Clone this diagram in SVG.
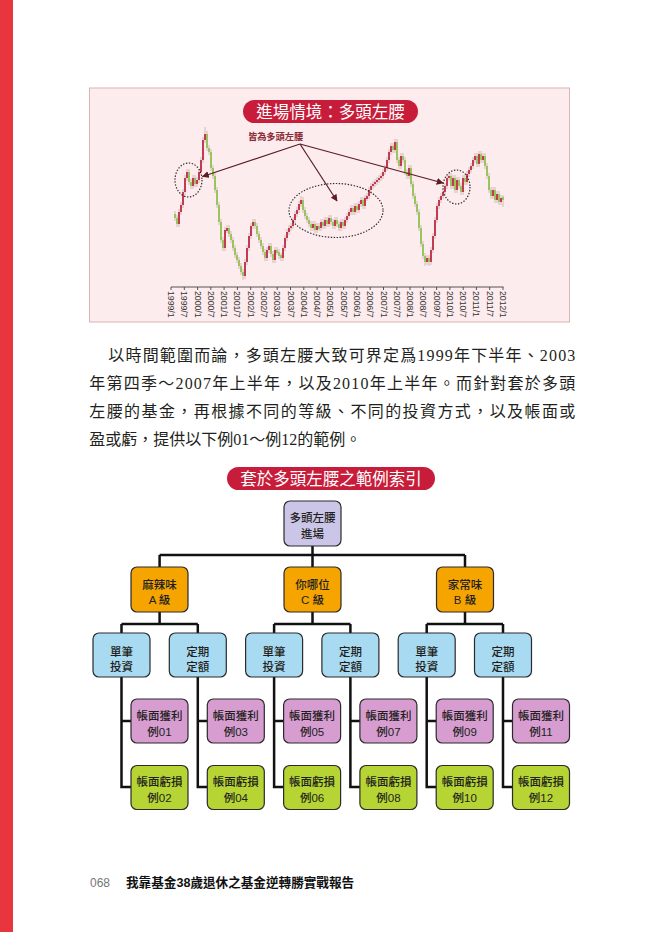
<svg xmlns="http://www.w3.org/2000/svg" width="663" height="932" viewBox="0 0 663 932">
<style>
.cjk{font-family:"Liberation Sans","Noto Sans CJK TC","Noto Sans CJK SC",sans-serif}
.para{font-family:"Liberation Serif","Noto Sans CJK TC",serif;font-size:16px;fill:#231f20}
.pill{fill:#c81d3a}
.pilltxt{font-family:"Noto Sans CJK TC",sans-serif;font-size:16.5px;fill:#fff;text-anchor:middle}
.ax{font-family:"Liberation Sans",sans-serif;font-size:8.7px;fill:#333}
.node rect{stroke:#2a2a2a;stroke-width:1.2}
.node text{font-family:"Liberation Sans","Noto Sans CJK TC",sans-serif;font-size:11.5px;fill:#231f20;text-anchor:middle;font-weight:500}
.root rect{fill:#cbc5e7}
.lv2 rect{fill:#f5a400}
.lv3 rect{fill:#a8daf2}
.gain rect{fill:#d79dd1}
.loss rect{fill:#b6d433}
.conn{fill:none;stroke:#111;stroke-width:2.5}
.dot{fill:none;stroke:#2a2a2a;stroke-width:1.2;stroke-dasharray:1.4 1.6}
.arr{stroke:#5b1c22;stroke-width:1.2;fill:none;marker-end:url(#ah)}
</style>
<defs>
<marker id="ah" viewBox="0 0 10 10" refX="9" refY="5" markerWidth="7" markerHeight="7" orient="auto" markerUnits="userSpaceOnUse">
<path d="M0 0L10 5L0 10z" fill="#5b1c22"/>
</marker>
</defs>
<rect width="663" height="932" fill="#fff"/>
<rect x="0" y="0" width="13" height="932" fill="#e8353e"/>

<g id="chart">
<rect x="89.5" y="88" width="480" height="234" fill="#fdeced" stroke="#d9b5b5" stroke-width="1"/>
<rect class="pill" x="243" y="100" width="175" height="23" rx="11.5"/>
<text class="pilltxt" x="330.5" y="117.5">進場情境：多頭左腰</text>
<text x="248" y="139.5" style="font-family:'Noto Sans CJK TC',sans-serif;font-size:9.2px;fill:#8a2b36;font-weight:700">皆為多頭左腰</text>
<!-- wicks -->
<path stroke="#bfa8a8" stroke-width="0.7" fill="none" d="M175 211V221M177 215V227M179 209V227M181 202V215M183 189V208M185 175V195M187 169V181M189 169V185M191 179V189M193 175V189M195 175V187M197 177V187M199 169V183M201 157V175M203 137V163M205 127V143M207 131V151M209 145V155M211 149V171M213 165V179M215 173V193M217 187V208M219 202V225M221 219V243M223 237V251M225 227V251M227 225V233M229 225V237M231 231V243M233 237V251M235 245V258M237 252V263M239 257V269M241 263V275M243 269V280M245 259V279M247 245V265M249 233V251M251 223V239M253 219V229M255 219V229M257 223V237M259 231V243M261 237V249M263 243V255M265 249V261M267 247V261M269 243V253M271 243V257M273 251V263M275 247V263M277 247V255M279 249V259M281 253V261M283 245V261M285 235V251M287 229V241M289 225V235M291 223V231M293 217V229M295 211V223M297 207V217M299 201V213M301 196V207M303 197V213M305 207V219M307 213V223M309 217V227M311 221V231M313 221V231M315 221V233M317 223V233M319 223V231M321 219V231M323 219V229M325 217V229M327 217V227M329 215V227M331 215V225M333 219V229M335 217V229M337 217V227M339 221V231M341 219V231M343 219V229M345 217V229M347 213V223M349 209V219M351 205V215M353 205V215M355 203V215M357 203V213M359 201V213M361 197V207M363 197V209M365 195V209M367 193V201M369 187V199M371 183V193M373 181V189M375 179V187M377 177V185M379 175V183M381 173V181M383 169V179M385 165V175M387 157V171M389 149V163M391 143V155M393 143V153M395 139V153M397 139V163M399 157V169M401 153V169M403 153V163M405 157V175M407 169V179M409 165V179M411 165V187M413 181V199M415 193V207M417 201V215M419 209V231M421 225V247M423 241V259M425 253V266M427 255V265M429 255V266M431 247V265M433 233V253M435 217V239M437 203V223M439 197V209M441 193V203M443 189V199M445 183V195M447 175V189M449 173V181M451 173V189M453 175V189M455 175V193M457 177V193M459 177V189M461 183V195M463 175V195M465 175V185M467 171V185M469 167V177M471 163V173M473 157V169M475 153V163M477 153V167M479 151V167M481 151V163M483 153V163M485 153V169M487 163V179M489 173V193M491 187V199M493 187V199M495 187V203M497 191V203M499 191V205M501 195V205M503 195V207"/>
<!-- up candles (red) -->
<path stroke="#bd2c44" stroke-width="1.8" fill="none" d="M179 224V212M181 212V205M183 205V192M185 192V178M187 178V172M193 186V178M197 184V180M199 180V172M201 172V160M203 160V140M205 140V134M225 248V230M227 231V228M245 276V262M247 262V248M249 248V236M251 236V226M253 226V222M267 258V250M269 250V246M275 260V250M283 258V248M285 248V238M287 238V232M289 232V228M291 228V226M293 226V220M295 220V214M297 214V210M299 210V204M301 204V200M313 228V224M317 230V226M321 228V222M325 226V220M329 224V218M335 226V220M341 228V222M345 226V220M347 220V216M349 216V212M351 212V208M355 212V206M359 210V204M361 204V200M365 206V198M367 199V196M369 196V190M371 190V186M373 186V184M375 184V182M377 182V180M379 180V178M381 178V176M383 176V172M385 172V168M387 168V160M389 160V152M391 152V146M395 150V142M401 166V156M409 176V168M427 262V258M431 262V250M433 250V236M435 236V220M437 220V206M439 206V200M441 200V196M443 196V192M445 192V186M447 186V178M449 178V176M453 186V178M457 190V180M463 192V178M467 182V174M469 174V170M471 170V166M473 166V160M475 160V156M479 164V154M483 160V156M493 196V190M497 200V194M501 202V198"/>
<!-- down candles (green) -->
<path stroke="#92c452" stroke-width="1.8" fill="none" d="M175 214V218M177 218V224M189 172V182M191 182V186M195 178V184M207 134V148M209 148V152M211 152V168M213 168V176M215 176V190M217 190V205M219 205V222M221 222V240M223 240V248M229 228V234M231 234V240M233 240V248M235 248V255M237 255V260M239 260V266M241 266V272M243 272V276M255 222V226M257 226V234M259 234V240M261 240V246M263 246V252M265 252V258M271 246V254M273 254V260M277 250V253M279 252V256M281 255V258M303 200V210M305 210V216M307 216V220M309 220V224M311 224V228M315 224V230M319 226V229M323 222V226M327 220V224M331 218V222M333 222V226M337 220V224M339 224V228M343 222V226M353 208V212M357 206V210M363 200V206M393 146V150M397 142V160M399 160V166M403 156V160M405 160V172M407 172V176M411 168V184M413 184V196M415 196V204M417 204V212M419 212V228M421 228V244M423 244V256M425 256V262M429 258V262M451 176V186M455 178V190M459 180V186M461 186V192M465 178V182M477 156V164M481 154V160M485 156V166M487 166V176M489 176V190M491 190V196M495 190V200M499 194V202M503 197V200"/>
<!-- axis -->
<path stroke="#444" stroke-width="0.9" fill="none" d="M171 287H503.5M171 287v3M184.3 287v3M197.6 287v3M210.8 287v3M224.1 287v3M237.4 287v3M250.7 287v3M264 287v3M277.2 287v3M290.5 287v3M303.8 287v3M317.1 287v3M330.4 287v3M343.6 287v3M356.9 287v3M370.2 287v3M383.5 287v3M396.8 287v3M410 287v3M423.3 287v3M436.6 287v3M449.9 287v3M463.2 287v3M476.4 287v3M489.7 287v3M503 287v3"/>
<g class="ax">
<text transform="translate(168,291) rotate(90)">1999/1</text>
<text transform="translate(181.3,291) rotate(90)">1999/7</text>
<text transform="translate(194.6,291) rotate(90)">2000/1</text>
<text transform="translate(207.8,291) rotate(90)">2000/7</text>
<text transform="translate(221.1,291) rotate(90)">2001/1</text>
<text transform="translate(234.4,291) rotate(90)">2001/7</text>
<text transform="translate(247.7,291) rotate(90)">2002/1</text>
<text transform="translate(261,291) rotate(90)">2002/7</text>
<text transform="translate(274.2,291) rotate(90)">2003/1</text>
<text transform="translate(287.5,291) rotate(90)">2003/7</text>
<text transform="translate(300.8,291) rotate(90)">2004/1</text>
<text transform="translate(314.1,291) rotate(90)">2004/7</text>
<text transform="translate(327.4,291) rotate(90)">2005/1</text>
<text transform="translate(340.6,291) rotate(90)">2005/7</text>
<text transform="translate(353.9,291) rotate(90)">2006/1</text>
<text transform="translate(367.2,291) rotate(90)">2006/7</text>
<text transform="translate(380.5,291) rotate(90)">2007/1</text>
<text transform="translate(393.8,291) rotate(90)">2007/7</text>
<text transform="translate(407,291) rotate(90)">2008/1</text>
<text transform="translate(420.3,291) rotate(90)">2008/7</text>
<text transform="translate(433.6,291) rotate(90)">2009/7</text>
<text transform="translate(446.9,291) rotate(90)">2010/1</text>
<text transform="translate(460.2,291) rotate(90)">2010/7</text>
<text transform="translate(473.4,291) rotate(90)">2011/1</text>
<text transform="translate(486.7,291) rotate(90)">2011/7</text>
<text transform="translate(500,291) rotate(90)">2012/1</text>
</g>
<ellipse class="dot" cx="188.5" cy="180" rx="13.5" ry="17"/>
<ellipse class="dot" cx="336" cy="210.5" rx="47" ry="27"/>
<ellipse class="dot" cx="456.5" cy="187" rx="13.5" ry="17"/>
<path class="arr" d="M300 144L202.5 176.5"/>
<path class="arr" d="M300 144L337 201"/>
<path class="arr" d="M300 144L443 183"/>
</g>

<g id="paragraph" class="para">
<text x="108.3" y="361" textLength="467" lengthAdjust="spacing">以時間範圍而論，多頭左腰大致可界定爲1999年下半年、2003</text>
<text x="89.3" y="389" textLength="486" lengthAdjust="spacing">年第四季～2007年上半年，以及2010年上半年。而針對套於多頭</text>
<text x="89.3" y="417" textLength="486" lengthAdjust="spacing">左腰的基金，再根據不同的等級、不同的投資方式，以及帳面或</text>
<text x="89.3" y="445">盈或虧，提供以下例01～例12的範例。</text>
</g>

<g id="tree-title">
<rect class="pill" x="227" y="467" width="208" height="23" rx="11.5"/>
<text class="pilltxt" x="331" y="484.5">套於多頭左腰之範例索引</text>
</g>

<g id="connectors" class="conn">
<path d="M312.5 546V555M159.6 555H465M159.6 555V567M312.5 555V567M465 555V567"/>
<path d="M159.6 612V624M121.5 624H197.8M121.5 624V633M197.8 624V633"/>
<path d="M312.5 612V624M274.1 624H350.4M274.1 624V633M350.4 624V633"/>
<path d="M465 612V624M426.7 624H503M426.7 624V633M503 624V633"/>
<path d="M121.5 677V787H131M121.5 721H131"/>
<path d="M197.8 677V787H207.3M197.8 721H207.3"/>
<path d="M274.1 677V787H283.6M274.1 721H283.6"/>
<path d="M350.4 677V787H359.9M350.4 721H359.9"/>
<path d="M426.7 677V787H436.2M426.7 721H436.2"/>
<path d="M503 677V787H512.5M503 721H512.5"/>
</g>

<g id="n-root" class="node root"><rect x="284" y="501" width="57" height="45" rx="6"/><text x="312.5" y="522">多頭左腰</text><text x="312.5" y="538">進場</text></g>

<g id="n-A" class="node lv2"><rect x="131" y="567" width="57" height="45" rx="6"/><text x="159.5" y="588.5">麻辣味</text><text x="159.5" y="604">A 級</text></g>
<g id="n-C" class="node lv2"><rect x="284" y="567" width="57" height="45" rx="6"/><text x="312.5" y="588.5">你哪位</text><text x="312.5" y="604">C 級</text></g>
<g id="n-B" class="node lv2"><rect x="436.5" y="567" width="57" height="45" rx="6"/><text x="465" y="588.5">家常味</text><text x="465" y="604">B 級</text></g>

<g id="n-A1" class="node lv3"><rect x="93" y="633" width="57" height="44" rx="6"/><text x="121.5" y="655.5">單筆</text><text x="121.5" y="671">投資</text></g>
<g id="n-A2" class="node lv3"><rect x="169.3" y="633" width="57" height="44" rx="6"/><text x="197.8" y="655.5">定期</text><text x="197.8" y="671">定額</text></g>
<g id="n-C1" class="node lv3"><rect x="245.6" y="633" width="57" height="44" rx="6"/><text x="274.1" y="655.5">單筆</text><text x="274.1" y="671">投資</text></g>
<g id="n-C2" class="node lv3"><rect x="321.9" y="633" width="57" height="44" rx="6"/><text x="350.4" y="655.5">定期</text><text x="350.4" y="671">定額</text></g>
<g id="n-B1" class="node lv3"><rect x="398.2" y="633" width="57" height="44" rx="6"/><text x="426.7" y="655.5">單筆</text><text x="426.7" y="671">投資</text></g>
<g id="n-B2" class="node lv3"><rect x="474.5" y="633" width="57" height="44" rx="6"/><text x="503" y="655.5">定期</text><text x="503" y="671">定額</text></g>

<g id="n-ex01" class="node gain"><rect x="131" y="699" width="57" height="44" rx="6"/><text x="159.5" y="719.5">帳面獲利</text><text x="159.5" y="735.5">例01</text></g>
<g id="n-ex02" class="node loss"><rect x="131" y="765.5" width="57" height="44" rx="6"/><text x="159.5" y="786">帳面虧損</text><text x="159.5" y="802">例02</text></g>
<g id="n-ex03" class="node gain"><rect x="207.3" y="699" width="57" height="44" rx="6"/><text x="235.8" y="719.5">帳面獲利</text><text x="235.8" y="735.5">例03</text></g>
<g id="n-ex04" class="node loss"><rect x="207.3" y="765.5" width="57" height="44" rx="6"/><text x="235.8" y="786">帳面虧損</text><text x="235.8" y="802">例04</text></g>
<g id="n-ex05" class="node gain"><rect x="283.6" y="699" width="57" height="44" rx="6"/><text x="312.1" y="719.5">帳面獲利</text><text x="312.1" y="735.5">例05</text></g>
<g id="n-ex06" class="node loss"><rect x="283.6" y="765.5" width="57" height="44" rx="6"/><text x="312.1" y="786">帳面虧損</text><text x="312.1" y="802">例06</text></g>
<g id="n-ex07" class="node gain"><rect x="359.9" y="699" width="57" height="44" rx="6"/><text x="388.4" y="719.5">帳面獲利</text><text x="388.4" y="735.5">例07</text></g>
<g id="n-ex08" class="node loss"><rect x="359.9" y="765.5" width="57" height="44" rx="6"/><text x="388.4" y="786">帳面虧損</text><text x="388.4" y="802">例08</text></g>
<g id="n-ex09" class="node gain"><rect x="436.2" y="699" width="57" height="44" rx="6"/><text x="464.7" y="719.5">帳面獲利</text><text x="464.7" y="735.5">例09</text></g>
<g id="n-ex10" class="node loss"><rect x="436.2" y="765.5" width="57" height="44" rx="6"/><text x="464.7" y="786">帳面虧損</text><text x="464.7" y="802">例10</text></g>
<g id="n-ex11" class="node gain"><rect x="512.5" y="699" width="57" height="44" rx="6"/><text x="541" y="719.5">帳面獲利</text><text x="541" y="735.5">例11</text></g>
<g id="n-ex12" class="node loss"><rect x="512.5" y="765.5" width="57" height="44" rx="6"/><text x="541" y="786">帳面虧損</text><text x="541" y="802">例12</text></g>

<g id="footer">
<text x="90" y="886.5" style="font-family:'Liberation Sans',sans-serif;font-size:12px;fill:#777">068</text>
<text x="126" y="887" style="font-family:'Liberation Sans','Noto Sans CJK TC',sans-serif;font-size:12.6px;fill:#111;font-weight:700">我靠基金38歲退休之基金逆轉勝實戰報告</text>
</g>
</svg>
